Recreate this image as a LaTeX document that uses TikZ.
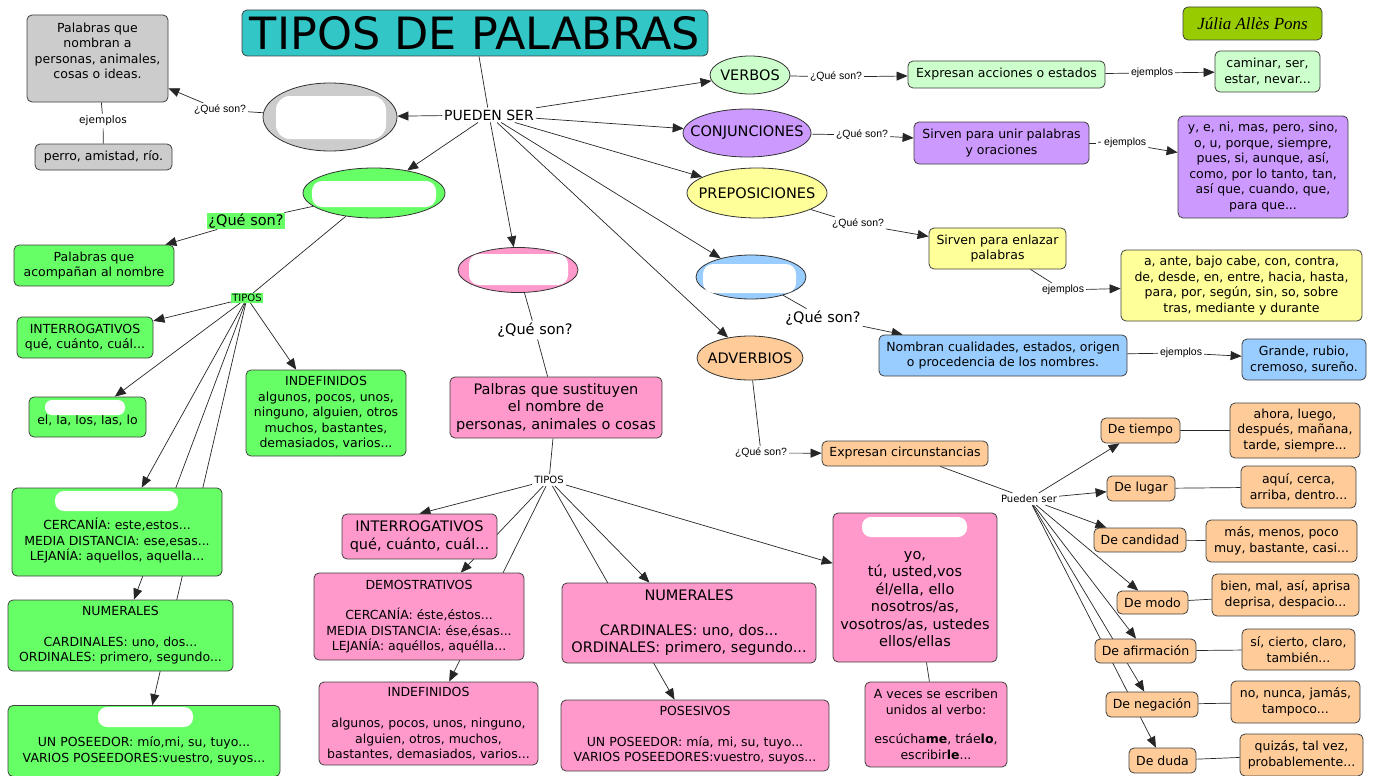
\documentclass[tikz,border=0pt]{standalone}
\usepackage{fontspec}
\setmainfont{DejaVu Sans}
\newfontfamily\labfont{Liberation Sans}
\newfontfamily\authfont{Liberation Serif}
\usetikzlibrary{shapes.geometric,arrows.meta,backgrounds}
\definecolor{cteal}{HTML}{33C6C6}
\definecolor{colive}{HTML}{99CC00}
\definecolor{cgray}{HTML}{CCCCCC}
\definecolor{cgreen}{HTML}{66FF66}
\definecolor{cpink}{HTML}{FF99CC}
\definecolor{cmint}{HTML}{CCFFCC}
\definecolor{clav}{HTML}{CC99FF}
\definecolor{cyel}{HTML}{FFFF99}
\definecolor{cblue}{HTML}{99CCFF}
\definecolor{corange}{HTML}{FFCC99}
\newcommand\fnorm{\fontsize{12.5}{15.5}\selectfont}
\newcommand\flarge{\fontsize{14.5}{17.5}\selectfont}
\newcommand\fsmall{\fontsize{10}{12}\selectfont}
\newcommand\flab{\labfont\fontsize{10.5}{12}\selectfont}
\begin{document}
\begin{tikzpicture}[x=1pt,y=-1pt,
 box/.style={draw=black!75, line width=0.8pt, rounded corners=5pt, align=center, inner sep=1pt, font=\fnorm},
 oval/.style={draw=black!80, line width=0.8pt, ellipse, inner sep=0pt},
 otext/.style={label={[font=\flarge]center:#1}},
 lab/.style={inner sep=2pt, font=\flab},
 conn/.style={draw=black!85, line width=0.7pt},
 arr/.style={conn, -{Triangle[length=11pt,width=9pt]}},
 blob/.style={fill=white, rounded corners=7pt}]
\useasboundingbox (0,0) rectangle (1376,776);

% title and author
\node[box, fill=cteal, minimum width=466pt, minimum height=46pt, font=\fontsize{44.5}{48}\selectfont] (title) at (475,33) {TIPOS DE PALABRAS};
\node[box, fill=colive, minimum width=139pt, minimum height=33pt, font=\authfont\itshape\fontsize{17}{20}\selectfont] (author) at (1252.5,23.5) {Júlia Allès Pons};
\node[inner sep=2pt, font=\fontsize{14}{16}\selectfont] (pueden) at (489,115) {PUEDEN SER};

% sustantivos (gray)
\node[oval, fill=cgray, minimum width=134pt, minimum height=68pt] (gell) at (330,117) {};
\node[box, fill=cgray, minimum width=141pt, minimum height=87pt] (gbox) at (97.5,58.5) {Palabras que\\nombran a\\personas, animales,\\cosas o ideas.\\~};
\node[lab] (gq) at (220,110) {¿Qué son?};
\node[lab, font=\fontsize{10.5}{12}\selectfont] (gej) at (103,121) {ejemplos};
\node[box, fill=cgray, minimum width=137pt, minimum height=26pt] (gex) at (103.5,157) {perro, amistad, río.};

% determinantes (green)
\node[oval, fill=cgreen, minimum width=142pt, minimum height=50pt] (gnell) at (374,193) {};
\node[inner sep=1pt, fill=cgreen, font=\flarge] (gnq) at (246,221) {¿Qué son?};
\node[box, fill=cgreen, minimum width=160pt, minimum height=41pt] (gnbox) at (94,265.5) {Palabras que\\acompañan al nombre};
\node[inner sep=1pt, fill=cgreen, font=\fsmall] (gtipos) at (247,298) {TIPOS};
\node[box, fill=cgreen, minimum width=136pt, minimum height=41pt] (gint) at (85,337.5) {INTERROGATIVOS\\qué, cuánto, cuál...};
\node[box, fill=cgreen, minimum width=117pt, minimum height=40pt] (gart) at (87.5,417) {~\\el, la, los, las, lo};
\node[box, fill=cgreen, minimum width=160pt, minimum height=86pt] (gind) at (326,413) {INDEFINIDOS\\algunos, pocos, unos,\\ninguno, alguien, otros\\muchos, bastantes,\\demasiados, varios...};
\node[box, fill=cgreen, minimum width=210pt, minimum height=88pt] (gdem) at (117,532) {~\\[14pt]CERCANÍA: este,estos...\\MEDIA DISTANCIA: ese,esas...\\LEJANÍA: aquellos, aquella...};
\node[box, fill=cgreen, minimum width=225pt, minimum height=71pt] (gnum) at (120.5,635.5) {NUMERALES\\[15pt]CARDINALES: uno, dos...\\ORDINALES: primero, segundo...};
\node[box, fill=cgreen, minimum width=272pt, minimum height=71pt] (gpos) at (144,741) {~\\[14pt]UN POSEEDOR: mío,mi, su, tuyo...\\VARIOS POSEEDORES:vuestro, suyos...};

% pronombres (pink)
\node[oval, fill=cpink, minimum width=120pt, minimum height=45pt] (pell) at (518,270) {};
\node[inner sep=2pt, font=\flarge] (pq) at (535,330) {¿Qué son?};
\node[box, fill=cpink, minimum width=212pt, minimum height=61pt, font=\flarge] (pbox) at (556,407.5) {Palbras que sustituyen\\el nombre de\\personas, animales o cosas};
\node[inner sep=2pt, font=\fsmall] (ptipos) at (549,480) {TIPOS};
\node[box, fill=cpink, minimum width=155pt, minimum height=45pt, font=\flarge] (pint) at (419.5,536.5) {INTERROGATIVOS\\qué, cuánto, cuál...};
\node[box, fill=cpink, minimum width=210pt, minimum height=87pt] (pdem) at (419,616.5) {DEMOSTRATIVOS\\[15pt]CERCANÍA: éste,éstos...\\MEDIA DISTANCIA: ése,ésas...\\LEJANÍA: aquéllos, aquélla...};
\node[box, fill=cpink, minimum width=219pt, minimum height=83pt] (pind) at (428.5,723.5) {INDEFINIDOS\\[16pt]algunos, pocos, unos, ninguno,\\alguien, otros, muchos,\\bastantes, demasiados, varios...};
\node[box, fill=cpink, minimum width=254pt, minimum height=80pt, font=\flarge] (pnum) at (689,623) {NUMERALES\\[17pt]CARDINALES: uno, dos...\\ORDINALES: primero, segundo...};
\node[box, fill=cpink, minimum width=268pt, minimum height=71pt] (ppos) at (695,735.5) {POSESIVOS\\[15pt]UN POSEEDOR: mía, mi, su, tuyo...\\VARIOS POSEEDORES:vuestro, suyos...};
\node[box, fill=cpink, minimum width=164pt, minimum height=149pt, font=\flarge] (pper) at (915,587.5) {~\\[15pt]yo,\\tú, usted,vos\\él/ella, ello\\nosotros/as,\\vosotros/as, ustedes\\ellos/ellas};
\node[box, fill=cpink, minimum width=142pt, minimum height=85pt] (pver) at (936,724.5) {A veces se escriben\\unidos al verbo:\\[14pt]escúcha\textbf{me}, tráe\textbf{lo},\\escribir\textbf{le}...};

% verbos
\node[oval, fill=cmint, minimum width=80pt, minimum height=38pt, otext=VERBOS] (verb) at (750,75) {};
\node[lab] (vq) at (836,77) {¿Qué son?};
\node[box, fill=cmint, minimum width=197pt, minimum height=27pt] (vbox) at (1006.5,74.5) {Expresan acciones o estados};
\node[lab] (vej) at (1152,73) {ejemplos};
\node[box, fill=cmint, minimum width=105pt, minimum height=41pt] (vex) at (1267.5,71.5) {caminar, ser,\\estar, nevar...};

% conjunciones
\node[oval, fill=clav, minimum width=128pt, minimum height=48pt, otext=CONJUNCIONES] (conj) at (747,133) {};
\node[lab] (cq) at (862,135) {¿Qué son?};
\node[box, fill=clav, minimum width=175pt, minimum height=42pt] (cbox) at (1001.5,143) {Sirven para unir palabras\\y oraciones};
\node[lab] (cej) at (1122,143) {- ejemplos};
\node[box, fill=clav, minimum width=170pt, minimum height=102pt] (cex) at (1263,167) {y, e, ni, mas, pero, sino,\\o, u, porque, siempre,\\pues, si, aunque, así,\\como, por lo tanto, tan,\\así que, cuando, que,\\para que...};

% preposiciones
\node[oval, fill=cyel, minimum width=140pt, minimum height=50pt, otext=PREPOSICIONES] (prep) at (757,193) {};
\node[lab] (prq) at (858,224) {¿Qué son?};
\node[box, fill=cyel, minimum width=137pt, minimum height=41pt] (prbox) at (997.5,248.5) {Sirven para enlazar\\palabras};
\node[lab] (prej) at (1063,290) {ejemplos};
\node[box, fill=cyel, minimum width=241pt, minimum height=71pt] (prex) at (1241.5,285.5) {a, ante, bajo cabe, con, contra,\\de, desde, en, entre, hacia, hasta,\\para, por, según, sin, so, sobre\\tras, mediante y durante};

% adjetivos (blue)
\node[oval, fill=cblue, minimum width=110pt, minimum height=44pt] (bell) at (751,277) {};
\node[inner sep=2pt, font=\flarge] (bq) at (823,318) {¿Qué son?};
\node[box, fill=cblue, minimum width=248pt, minimum height=41pt] (bbox) at (1003,355.5) {Nombran cualidades, estados, origen\\o procedencia de los nombres.};
\node[lab] (bej) at (1181,353) {ejemplos};
\node[box, fill=cblue, minimum width=124pt, minimum height=41pt] (bex) at (1304,359.5) {Grande, rubio,\\cremoso, sureño.};

% adverbios
\node[oval, fill=corange, minimum width=106pt, minimum height=44pt, otext=ADVERBIOS] (adv) at (750,358) {};
\node[lab] (aq) at (761,453) {¿Qué son?};
\node[box, fill=corange, minimum width=166pt, minimum height=25pt] (abox) at (905,453.5) {Expresan circunstancias};
\node[inner sep=2pt, font=\fsmall] (apu) at (1029,499) {Pueden ser};
\node[box, fill=corange, minimum width=79pt, minimum height=25pt] (dt) at (1140.5,430.5) {De tiempo};
\node[box, fill=corange, minimum width=68pt, minimum height=25pt] (dl) at (1141,488.5) {De lugar};
\node[box, fill=corange, minimum width=92pt, minimum height=24pt] (dc) at (1140,540) {De candidad};
\node[box, fill=corange, minimum width=71pt, minimum height=23pt] (dm) at (1152.5,602.5) {De modo};
\node[box, fill=corange, minimum width=101pt, minimum height=24pt] (da) at (1145.5,651) {De afirmación};
\node[box, fill=corange, minimum width=92pt, minimum height=25pt] (dn) at (1152,704.5) {De negación};
\node[box, fill=corange, minimum width=67pt, minimum height=25pt] (dd) at (1162.5,760.5) {De duda};
\node[box, fill=corange, minimum width=130pt, minimum height=55pt] (et) at (1295,430.5) {ahora, luego,\\después, mañana,\\tarde, siempre...};
\node[box, fill=corange, minimum width=115pt, minimum height=42pt] (el) at (1298.5,487) {aquí, cerca,\\arriba, dentro...};
\node[box, fill=corange, minimum width=151pt, minimum height=42pt] (ec) at (1281.5,541) {más, menos, poco\\muy, bastante, casi...};
\node[box, fill=corange, minimum width=147pt, minimum height=42pt] (em) at (1285.5,595) {bien, mal, así, aprisa\\deprisa, despacio...};
\node[box, fill=corange, minimum width=113pt, minimum height=41pt] (ea) at (1298.5,649.5) {sí, cierto, claro,\\también...};
\node[box, fill=corange, minimum width=129pt, minimum height=42pt] (en) at (1295.5,702) {no, nunca, jamás,\\tampoco...};
\node[box, fill=corange, minimum width=123pt, minimum height=42pt] (ed) at (1301.5,755) {quizás, tal vez,\\probablemente...};

% white patches
\fill[blob, rounded corners=14pt] (276,96) rectangle (386,139);
\fill[blob, rounded corners=10pt] (312,181) rectangle (436,207);
\fill[blob, rounded corners=10pt] (469,254) rectangle (568,285);
\fill[blob, rounded corners=10pt] (703,264) rectangle (796,293);
\fill[blob] (45,400) rectangle (125,415);
\fill[blob, rounded corners=9pt] (55,491) rectangle (178,511);
\fill[blob, rounded corners=9pt] (98,707) rectangle (193,727);
\fill[blob, rounded corners=9pt] (862,517) rectangle (967,537);

% connectors
\begin{pgfonlayer}{background}
\draw[conn] (title) -- (pueden);
\foreach \t in {gell,gnell,pell,verb,conj,prep,bell,adv}
  \draw[arr] (pueden) -- (\t);
\draw[conn] (gell) -- (gq);
\draw[arr] (gq) -- (gbox);
\draw[conn] (gbox) -- (gej);
\draw[conn] (gej) -- (gex);
\draw[conn] (gnell) -- (gnq);
\draw[arr] (gnq) -- (gnbox);
\draw[conn] (gnell) -- (gtipos);
\foreach \t in {gint,gart,gdem,gnum,gpos,gind}
  \draw[arr] (gtipos) -- (\t);
\draw[conn] (pell) -- (pq);
\draw[conn] (pq) -- (pbox);
\draw[conn] (pbox) -- (ptipos);
\draw[arr] (ptipos) -- (pint.north);
\foreach \t in {pdem,pind,pnum,ppos,pper}
  \draw[arr] (ptipos) -- (\t);
\draw[conn] (pper) -- (pver);
\draw[conn] (verb) -- (vq);
\draw[arr] (vq) -- (vbox);
\draw[conn] (vbox) -- (vej);
\draw[arr] (vej) -- (vex);
\draw[conn] (conj) -- (cq);
\draw[arr] (cq) -- (cbox);
\draw[conn] (cbox) -- (cej);
\draw[arr] (cej) -- (cex);
\draw[conn] (prep) -- (prq);
\draw[arr] (prq) -- (prbox);
\draw[conn] (prbox) -- (prej);
\draw[arr] (prej) -- (prex);
\draw[conn] (bell) -- (bq);
\draw[arr] (bq) -- (bbox);
\draw[conn] (bbox) -- (bej);
\draw[arr] (bej) -- (bex);
\draw[conn] (adv) -- (aq);
\draw[arr] (aq) -- (abox);
\draw[conn] (abox) -- (apu);
\foreach \t in {dt,dl,dc,dm,da,dn,dd}
  \draw[arr] (apu) -- (\t);
\draw[conn] (dt) -- (et);
\draw[conn] (dl) -- (el);
\draw[conn] (dc) -- (ec);
\draw[conn] (dm) -- (em);
\draw[conn] (da) -- (ea);
\draw[conn] (dn) -- (en);
\draw[conn] (dd) -- (ed);
\end{pgfonlayer}
\end{tikzpicture}
\end{document}
